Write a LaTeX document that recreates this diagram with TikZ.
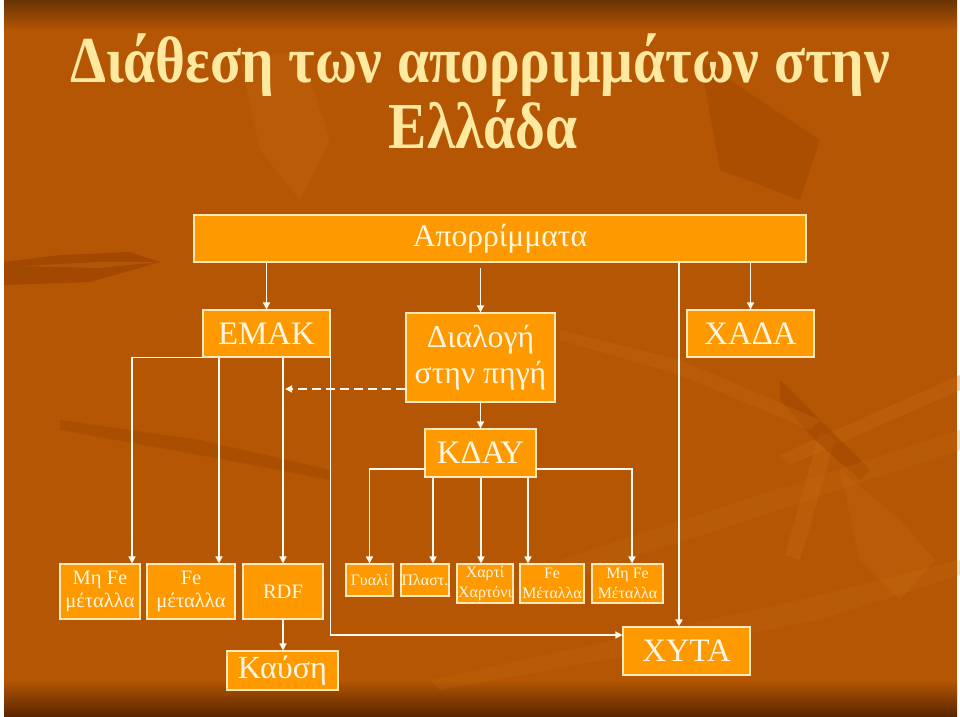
\documentclass[tikz,border=0pt]{standalone}
\usepackage{fontspec}
\setmainfont{Liberation Serif}
\usetikzlibrary{arrows.meta,calc}
\definecolor{bgmain}{RGB}{180,86,3}
\definecolor{bgdark}{RGB}{150,62,0}
\definecolor{bglight}{RGB}{204,112,22}
\definecolor{bgtop}{RGB}{105,52,4}
\definecolor{bgbot}{RGB}{92,38,0}
\definecolor{boxfill}{RGB}{255,153,0}
\definecolor{boxline}{RGB}{255,232,185}
\definecolor{boxtext}{RGB}{255,247,228}
\definecolor{titlecol}{RGB}{255,232,160}
\definecolor{linecol}{RGB}{255,250,240}
\tikzset{
  box/.style 2 args={draw=boxline, line width=0.9pt, fill=boxfill, text=boxtext,
    minimum width=#1*0.03cm, minimum height=#2*0.03cm, inner sep=0pt, align=center},
  arr/.style={draw=linecol, line width=1.2pt, -{Triangle[width=6pt,length=6pt]}},
  dasharr/.style={arr, dash pattern=on 8pt off 4pt},
  fA/.style={font=\fontsize{27}{31}\selectfont},
  fB/.style={font=\fontsize{28}{31}\selectfont},
  fC/.style={font=\fontsize{17.5}{19.5}\selectfont},
  fD/.style={font=\fontsize{13.6}{16.8}\selectfont},
  fE/.style={font=\fontsize{27.5}{30}\selectfont},
  ttl/.style={text=titlecol, anchor=base, inner sep=0pt, font=\fontsize{56}{60}\selectfont\bfseries}
}
\begin{document}
\begin{tikzpicture}[x=0.03cm, y=-0.03cm]
% background
\fill[white] (0,0) rectangle (960,716);
\fill[bgmain] (4,0) rectangle (957,716);
\shade[top color=bgtop, bottom color=bgmain] (4,0) rectangle (957,30);
\shade[top color=bgmain, bottom color=bgbot] (4,680) rectangle (957,716);
% leaves (decoration)
\fill[bgdark, opacity=0.55] (4,262) -- (60,255) -- (130,252) -- (160,262) -- (90,282) -- (4,285) -- cycle;
\fill[bglight, opacity=0.35] (20,266) -- (100,262) -- (158,262) -- (100,268) -- cycle;
\fill[bglight, opacity=0.25] (240,60) -- (300,50) -- (330,140) -- (300,200) -- (260,150) -- cycle;
\fill[bglight, opacity=0.3] (780,455) -- (960,375) -- (960,390) -- (790,465) -- cycle;
\fill[bglight, opacity=0.3] (820,430) -- (835,440) -- (800,560) -- (785,555) -- cycle;
\fill[bgdark, opacity=0.4] (780,380) -- (830,430) -- (870,470) -- (860,480) -- (815,440) -- (780,400) -- cycle;
\fill[bglight, opacity=0.25] (840,470) -- (900,520) -- (935,560) -- (900,600) -- (860,560) -- cycle;
\fill[bglight, opacity=0.2] (560,560) -- (960,430) -- (960,450) -- (580,575) -- cycle;
\fill[bglight, opacity=0.2] (430,680) -- (800,600) -- (960,560) -- (960,575) -- (820,620) -- (440,690) -- cycle;
\fill[bgdark, opacity=0.3] (700,60) -- (820,140) -- (800,200) -- (720,170) -- cycle;
\fill[bglight, opacity=0.25] (560,330) -- (680,360) -- (820,420) -- (810,430) -- (680,375) -- (560,340) -- cycle;
\fill[bgdark, opacity=0.3] (60,420) -- (200,440) -- (330,470) -- (330,480) -- (200,455) -- (60,430) -- cycle;
% title
\node[ttl] (t1) at (480,82) {\scalebox{0.875}[1]{Διάθεση των απορριμμάτων στην}};
\node[ttl] (t2) at (483,148) {\scalebox{0.875}[1]{Ελλάδα}};
% boxes
\node[box={612}{47}, fA] (top) at (500,238.5) {Απορρίμματα};
\node[box={127}{47}, fB] (emak) at (266.5,333.5) {ΕΜΑΚ};
\node[box={149}{89}, fA] (dial) at (480.5,357.5) {Διαλογή\\στην πηγή};
\node[box={127}{47}, fB] (xada) at (750.5,333.5) {ΧΑΔΑ};
\node[box={111}{48}, fB] (kday) at (480.5,453) {ΚΔΑΥ};
\node[box={80}{55}, fC] (mhfe) at (100,591.5) {Μη Fe\\μέταλλα};
\node[box={88}{55}, fC] (fe) at (191,591.5) {Fe\\μέταλλα};
\node[box={80}{55}, fC] (rdf) at (283,591.5) {RDF};
\node[box={111}{39}, fE] (kaysh) at (282.5,670.5) {Καύση};
\node[box={47}{32}, fD] (gyali) at (369.5,580) {Γυαλί};
\node[box={48}{32}, fD] (plast) at (425,580) {Πλαστ.};
\node[box={56}{39}, fD] (xarti) at (485,583.5) {Χαρτί\\Χαρτόνι};
\node[box={64}{39}, fD] (fem) at (552,583.5) {Fe\\Μέταλλα};
\node[box={71}{39}, fD] (mhfem) at (627.5,583.5) {Μη Fe\\Μέταλλα};
\node[box={127}{48}, fB] (xyta) at (686.5,651) {ΧΥΤΑ};
% helper coordinates
\coordinate (c132) at (132,0);
\coordinate (c219) at (219,0);
\coordinate (c433) at (433,0);
\coordinate (c481) at (481,0);
\coordinate (c528) at (528,0);
\coordinate (c632) at (632,0);
\coordinate (c679) at (679,0);
\coordinate (y469) at (0,469);
\coordinate (y635) at (0,635);
\coordinate (dashend) at (285,389);
% connectors
\draw[arr] (top.south -| emak.north) -- (emak.north);
\draw[arr, shorten <=5pt] (top.south -| dial.north) -- (dial.north);
\draw[arr] (top.south -| xada.north) -- (xada.north);
\draw[arr] (top.south -| c679) -- (xyta.north -| c679);
\draw[arr] (emak.south west) -| (mhfe.north -| c132);
\draw[arr] (emak.south -| c219) -- (fe.north -| c219);
\draw[arr] (emak.south -| rdf.north) -- (rdf.north);
\draw[arr] (emak.south east) -- (emak.south east |- y635) -- (xyta.west |- y635);
\draw[arr] (rdf.south) -- (rdf.south |- kaysh.north);
\draw[dasharr] (dial.west |- dashend) -- (dashend);
\draw[arr] (dial.south) -- (kday.north);
\draw[arr] (kday.west |- y469) -| (gyali.north);
\draw[arr] (kday.east |- y469) -| (mhfem.north -| c632);
\draw[arr] (kday.south -| c433) -- (plast.north -| c433);
\draw[arr] (kday.south -| c481) -- (xarti.north -| c481);
\draw[arr] (kday.south -| c528) -- (fem.north -| c528);
\end{tikzpicture}
\end{document}
